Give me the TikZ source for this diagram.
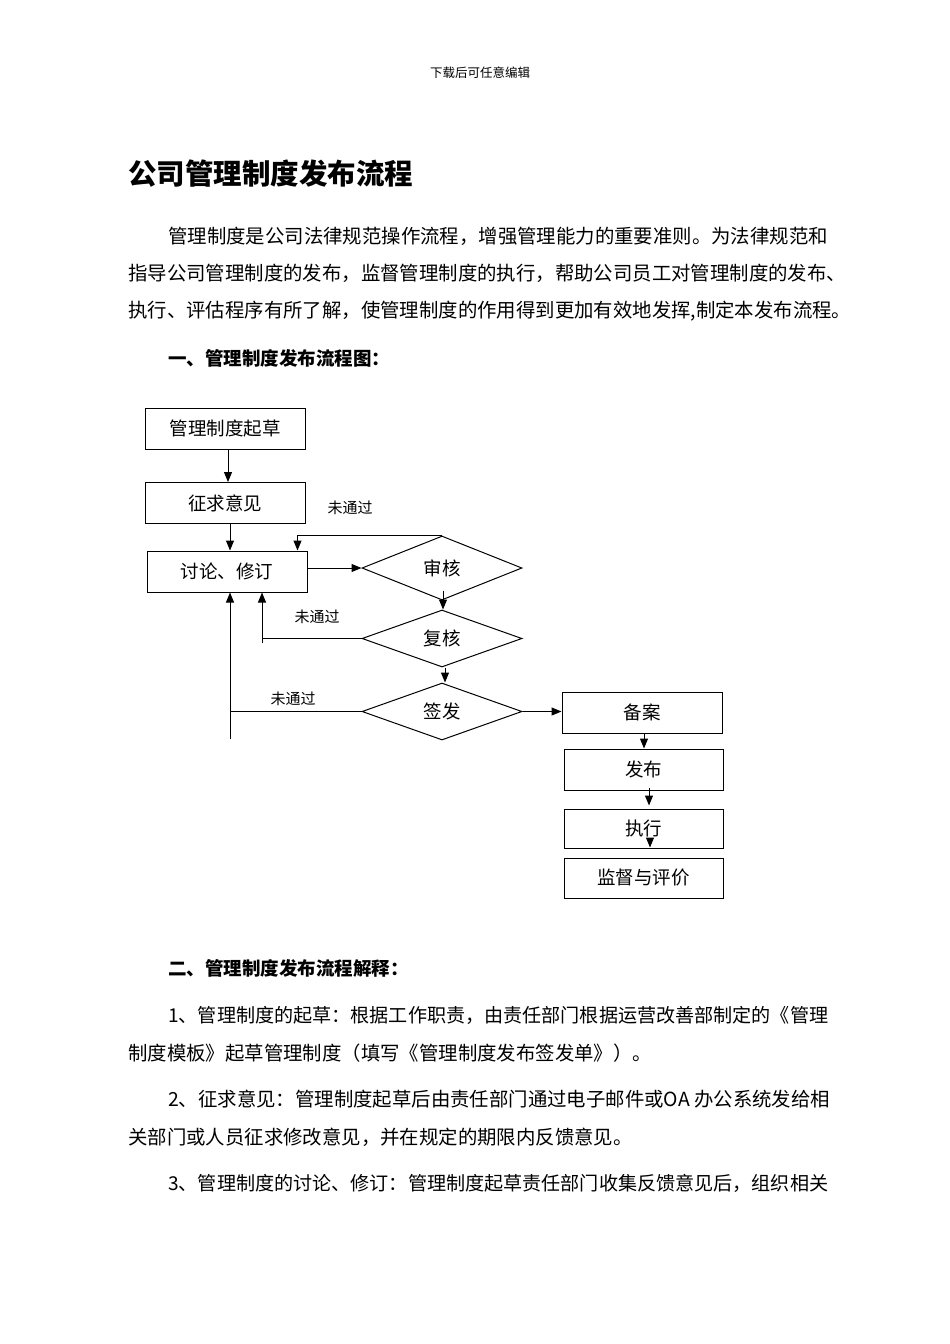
\documentclass[tikz,border=0pt]{standalone}
\usepackage{fontspec}
\newfontfamily\cjk{Noto Sans CJK SC}
\usetikzlibrary{arrows.meta,shapes.geometric}
\tikzset{
  fbox/.style={draw, line width=1pt, inner sep=0pt, minimum width=160pt, minimum height=41pt, font=\cjk\fontsize{18.5}{18.5}\selectfont},
  fdia/.style={draw, shape=diamond, line width=1pt, inner sep=0pt, aspect=2.5, minimum width=160pt, minimum height=57pt, font=\cjk\fontsize{18.5}{18.5}\selectfont},
  lbl/.style={font=\cjk\fontsize{15}{15}\selectfont, inner sep=0pt},
  conn/.style={line width=1pt},
  arr/.style={line width=1pt, -{Triangle[length=10pt,width=8pt]}},
  body/.style={anchor=west, inner sep=0pt, font=\cjk\fontsize{19.4}{19.4}\selectfont},
  bodytight/.style={anchor=west, inner sep=0pt, font=\cjk\fontsize{19.1}{19.1}\selectfont},
  bhead/.style={anchor=west, inner sep=0pt, font=\cjk\bfseries\fontsize{18.5}{18.5}\selectfont},
}
\begin{document}
\begin{tikzpicture}[x=1pt,y=-1pt]
\fill[white] (0,0) rectangle (950,1344);
\useasboundingbox (0,0) rectangle (950,1344);

% header and title
\node[inner sep=0pt, font=\cjk\fontsize{12.5}{12.5}\selectfont] (hdr) at (480,73) {下载后可任意编辑};
\node[anchor=west, inner sep=0pt, font=\cjk\bfseries\fontsize{28.5}{28.5}\selectfont] (title) at (128,174) {公司管理制度发布流程};

% intro paragraph
\node[body] (p1) at (168,236) {管理制度是公司法律规范操作流程，增强管理能力的重要准则。为法律规范和};
\node[body] (p2) at (128,273) {指导公司管理制度的发布，监督管理制度的执行，帮助公司员工对管理制度的发布、};
\node[body] (p3) at (128,311) {执行、评估程序有所了解，使管理制度的作用得到更加有效地发挥,制定本发布流程。};
\node[bhead] (h1) at (168,358) {一、管理制度发布流程图：};

% flowchart
\node[fbox] (b1) at (225,428.5) {管理制度起草};
\node[fbox] (b2) at (225,503) {征求意见};
\node[fbox] (b3) at (227,571.5) {讨论、修订};
\node[fdia, minimum height=64pt] (d1) at (442,568) {审核};
\node[fdia] (d2) at (442,638.5) {复核};
\node[fdia] (d3) at (442,711.5) {签发};
\node[fbox] (r1) at (642,712.5) {备案};
\node[fbox, minimum width=159pt] (r2) at (643.5,769.5) {发布};
\node[fbox, minimum width=159pt, minimum height=39pt] (r3) at (643.5,828.5) {执行};
\node[fbox, minimum width=159pt, minimum height=40pt] (r4) at (643.5,878) {监督与评价};

\node[lbl] (l1) at (350,508) {未通过};
\node[lbl] (l2) at (317,617) {未通过};
\node[lbl] (l3) at (293,699) {未通过};

\coordinate (c2) at (262,643);
\coordinate (c3) at (230,739);

\draw[arr] ([xshift=3pt]b1.south) -- ([xshift=3pt]b1.south |- b2.north);
\draw[arr] ([xshift=5pt]b2.south) -- ([xshift=5pt]b2.south |- b3.north);
\draw[arr] (b3.east |- d1.west) -- (d1.west);
\draw[arr] (d1.north) -| ([xshift=-10pt]b3.north east);
\draw[arr] ([xshift=1pt,yshift=10pt]d1.south) -- ([xshift=1pt]d2.north);
\draw[conn] (d2.west) -- (d2.west -| c2);
\draw[arr] (c2) -- (c2 |- b3.south);
\draw[arr] ([xshift=3pt]d2.south) -- ([xshift=3pt]d3.north);
\draw[conn] (d3.west) -- (d3.west -| c3);
\draw[arr] (c3) -- (c3 |- b3.south);
\draw[arr] (d3.east) -- (d3.east -| r1.west);
\draw[arr] ([xshift=2pt]r1.south) -- ([xshift=2pt]r1.south |- r2.north);
\draw[arr] ([xshift=5.5pt,yshift=3pt]r2.south) -- ([xshift=5.5pt,yshift=3pt]r2.south |- r3.north);
\draw[arr] ([xshift=6.5pt,yshift=10pt]r3.south) -- ([xshift=6.5pt,yshift=10pt]r3.south |- r4.north);

% explanation
\node[bhead] (h2) at (168,968) {二、管理制度发布流程解释：};
\node[bodytight] (q1) at (168,1015) {1、管理制度的起草：根据工作职责，由责任部门根据运营改善部制定的《管理};
\node[body] (q2) at (128,1053) {制度模板》起草管理制度（填写《管理制度发布签发单》）。};
\node[body] (q3) at (168,1099) {2、征求意见：管理制度起草后由责任部门通过电子邮件或OA 办公系统发给相};
\node[body] (q4) at (128,1137) {关部门或人员征求修改意见，并在规定的期限内反馈意见。};
\node[bodytight] (q5) at (168,1183) {3、管理制度的讨论、修订：管理制度起草责任部门收集反馈意见后，组织相关};
\end{tikzpicture}
\end{document}
